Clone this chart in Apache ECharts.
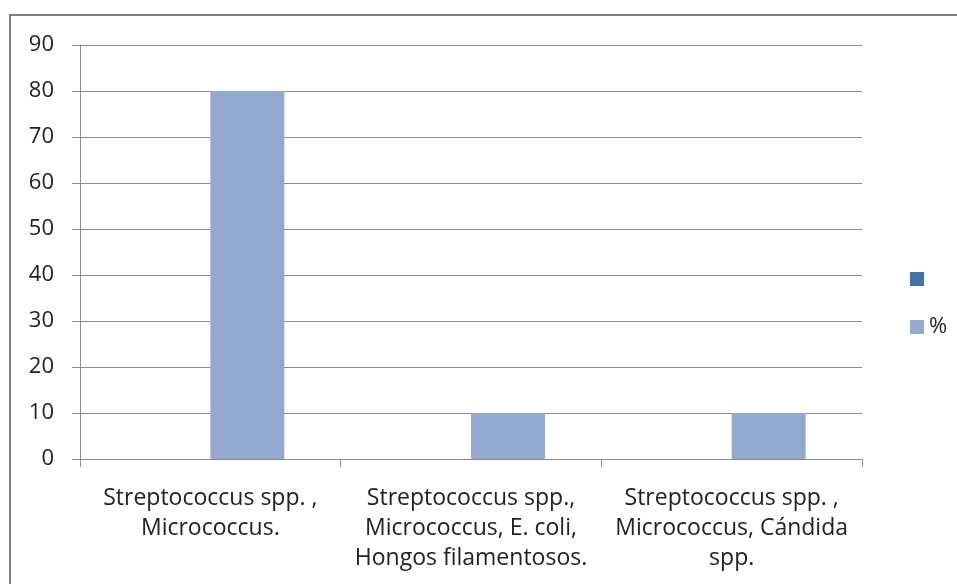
<!DOCTYPE html>
<html><head><meta charset="utf-8">
<script src="https://cdn.jsdelivr.net/npm/echarts@6/dist/echarts.min.js"></script>
<style>html,body{margin:0;padding:0;background:#fff;}#c{width:957px;height:584px;}</style>
</head><body><div id="c"></div>
<script>
const categories = ['Streptococcus spp. ,\nMicrococcus.', 'Streptococcus spp.,\nMicrococcus, E. coli,\nHongos filamentosos.', 'Streptococcus spp. ,\nMicrococcus, Cándida\nspp.'];
const series1Name = ' ';
const series1Values = [null, null, null];
const series2Name = '%';
const series2Values = [80, 10, 10];
const yTicks = { min: 0, max: 90, interval: 10 };

const chart = echarts.init(document.getElementById('c'));
const font = '"Open Sans", Lato, sans-serif';
chart.setOption({
  animation: false,
  textStyle: { fontFamily: font },
  graphic: [{ type: 'rect', shape: { x: 10, y: 15, width: 960, height: 600 }, style: { fill: 'none', stroke: '#7f7f7f', lineWidth: 2 }, z: -1 }],
  grid: { left: 80, right: 95, top: 45, bottom: 125, containLabel: false },
  legend: {
    orient: 'vertical', left: 905, top: 263, itemWidth: 14, itemHeight: 14, itemGap: 26,
    data: [series1Name, series2Name],
    textStyle: { fontSize: 22, color: '#222', fontFamily: font },
    icon: 'rect'
  },
  xAxis: {
    type: 'category', data: categories,
    axisLine: { lineStyle: { color: '#8c8c8c', width: 1 } },
    axisTick: { show: true, length: 8, lineStyle: { color: '#8c8c8c' } },
    axisLabel: { fontSize: 23, color: '#222', lineHeight: 30, margin: 24, interval: 0 }
  },
  yAxis: {
    type: 'value', min: yTicks.min, max: yTicks.max, interval: yTicks.interval,
    axisLine: { show: true, lineStyle: { color: '#8c8c8c' } },
    axisTick: { show: true, length: 8, lineStyle: { color: '#8c8c8c' } },
    splitLine: { lineStyle: { color: '#8c8c8c' } },
    axisLabel: { fontSize: 22, color: '#222', margin: 26 }
  },
  series: [
    { name: series1Name, type: 'bar', data: series1Values, barWidth: 74, barGap: '0%', itemStyle: { color: '#4472a8' } },
    { name: series2Name, type: 'bar', data: series2Values, barWidth: 74, barGap: '0%', itemStyle: { color: '#93a9d0' } }
  ]
});
</script></body></html>
